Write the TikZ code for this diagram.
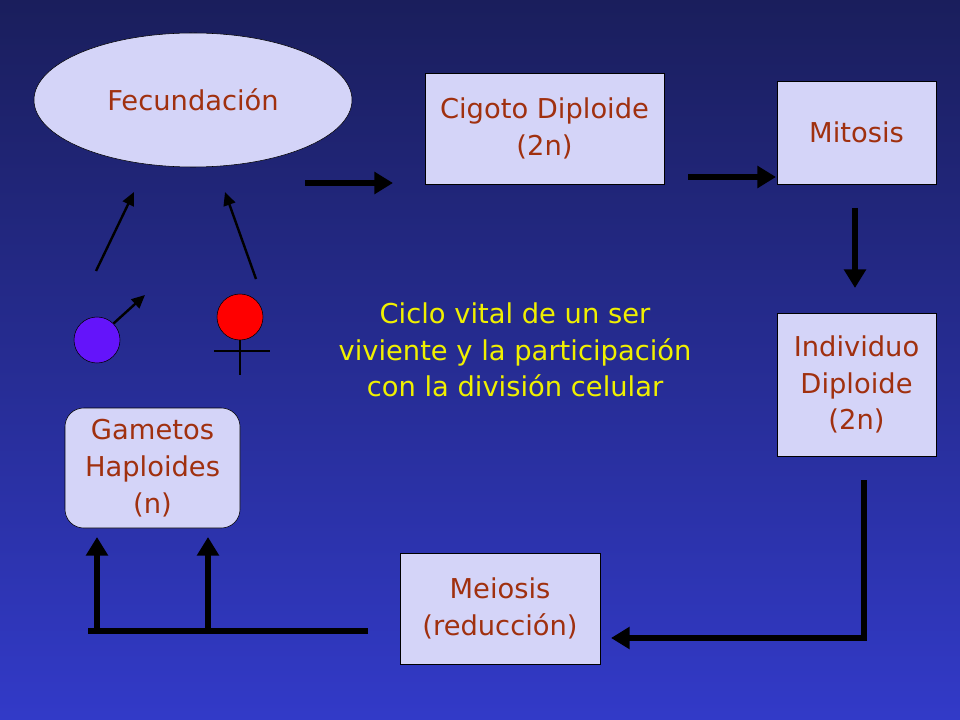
\documentclass[tikz,border=0pt]{standalone}
\usepackage{fontspec}
\setmainfont{DejaVu Sans}
\usetikzlibrary{shapes.geometric,arrows.meta}
\definecolor{txt}{HTML}{A0300F}
\definecolor{boxf}{HTML}{D4D4F8}
\definecolor{ylw}{HTML}{F0F000}
\tikzset{
 bx/.style={draw=black,fill=boxf,text=txt,font=\fontsize{20.5}{27.5}\selectfont,align=center,inner sep=0pt},
 thick arrow/.style={line width=3.9pt,-{Triangle[length=14pt,width=16pt]}},
 thickline/.style={line width=3.9pt},
 thin arrow/.style={line width=1.8pt,-{Triangle[length=10pt,width=9pt]}}
}
\begin{document}
\begin{tikzpicture}[x=0.75pt,y=-0.75pt]
\shade[top color={rgb,255:red,26;green,30;blue,92},bottom color={rgb,255:red,50;green,58;blue,200}] (0,0) rectangle (960,720);
\useasboundingbox (0,0) rectangle (960,720);
\node[bx,ellipse,minimum width=318pt*0.75,minimum height=134pt*0.75] (fec) at (193,100) {Fecundación};
\node[bx,minimum width=239*0.75pt,minimum height=111*0.75pt] (cig) at (544.5,128.5) {Cigoto Diploide\\(2n)};
\node[bx,minimum width=159*0.75pt,minimum height=103*0.75pt] (mit) at (856.5,132.5) {Mitosis};
\node[bx,minimum width=159*0.75pt,minimum height=143*0.75pt] (ind) at (856.5,384.5) {Individuo\\ Diploide\\(2n)};
\node[bx,minimum width=200*0.75pt,minimum height=111*0.75pt] (mei) at (500,608.5) {Meiosis\\(reducción)};
\node[bx,rounded corners=14pt,minimum width=175*0.75pt,minimum height=120*0.75pt] (gam) at (152.5,468) {Gametos\\ Haploides\\(n)};
\node[text=ylw,font=\fontsize{20.5}{27.5}\selectfont,align=center] (title) at (515,350) {Ciclo vital de un ser\\viviente y la participación\\con la división celular};
% arrows
\coordinate (a1) at (305,183); \coordinate (a2) at (393,183);
\draw[thick arrow] (a1) -- (a2);
\coordinate (b1) at (688,177); \coordinate (b2) at (776,177);
\draw[thick arrow] (b1) -- (b2);
\coordinate (c1) at (855,208); \coordinate (c2) at (855,288);
\draw[thick arrow] (c1) -- (c2);
\coordinate (d1) at (864,480); \coordinate (d2) at (864,638); \coordinate (d3) at (611,638);
\draw[thick arrow] (d1) -- (d2) -- (d3);
\coordinate (e1) at (368,631); \coordinate (e2) at (88,631);
\draw[thickline] (e1) -- (e2);
\coordinate (f1) at (97,633); \coordinate (f2) at (97,537);
\draw[thick arrow] (f1) -- (f2);
\coordinate (g1) at (208,633); \coordinate (g2) at (208,537);
\draw[thick arrow] (g1) -- (g2);
\coordinate (h1) at (96,271); \coordinate (h2) at (134,192);
\draw[thin arrow] (h1) -- (h2);
\coordinate (i1) at (256,279); \coordinate (i2) at (225,192);
\draw[thin arrow] (i1) -- (i2);
% male
\node[circle,draw=black,fill={rgb,255:red,100;green,20;blue,250},minimum size=46*0.75pt,inner sep=0pt] (male) at (97,340) {};
\coordinate (m2) at (145,295);
\draw[thin arrow] (male.45) -- (m2);
% female
\node[circle,draw=black,fill=red,minimum size=46*0.75pt,inner sep=0pt] (fem) at (240,317) {};
\coordinate (fa) at (240,375); \coordinate (fb) at (214,351); \coordinate (fc) at (270,351);
\draw[line width=2pt] (fem.south) -- (fa) (fb) -- (fc);
\end{tikzpicture}
\end{document}
